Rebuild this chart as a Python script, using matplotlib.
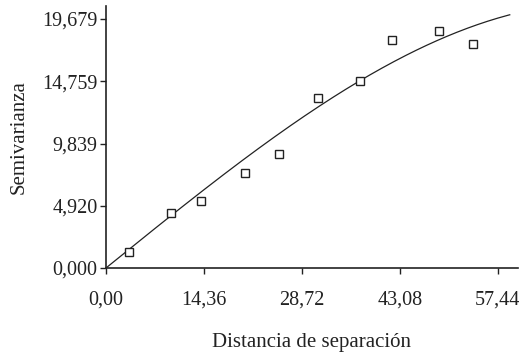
import numpy as np
import matplotlib
matplotlib.use("Agg")
import matplotlib.pyplot as plt

# empirical semivariogram (lag distance, semivariance)
distancia = [3.33, 9.58, 13.93, 20.38, 25.37, 31.13, 37.25, 41.94, 48.88, 53.87]
semivarianza = [1.24, 4.32, 5.32, 7.53, 8.99, 13.41, 14.78, 18.02, 18.76, 17.68]

# fitted spherical model
pepita = 0.0
meseta = 20.95
alcance = 72.0
h_max = 59.2

x_ticks = [0.0, 14.36, 28.72, 43.08, 57.44]
x_labels = ["0,00", "14,36", "28,72", "43,08", "57,44"]
y_ticks = [0.0, 4.920, 9.839, 14.759, 19.679]
y_labels = ["0,000", "4,920", "9,839", "14,759", "19,679"]


def esferico(h):
    r = np.clip(h / alcance, 0, 1)
    return pepita + meseta * (1.5 * r - 0.5 * r ** 3)


plt.rcParams["font.family"] = ["Liberation Serif", "DejaVu Serif"]
plt.rcParams["font.size"] = 14.5

fig = plt.figure(figsize=(5.31, 3.55), dpi=100)
ax = fig.add_axes([0.1996, 0.2451, 0.7754, 0.738])

h = np.linspace(0, h_max, 200)
ax.plot(h, esferico(h), color="#222222", lw=0.9)
ax.plot(distancia, semivarianza, ls="none", marker="s", ms=5.3,
        mfc="white", mec="#222222", mew=1.0)

ax.set_xlim(0, 60.37)
ax.set_ylim(0, 20.71)
ax.set_xticks(x_ticks)
ax.set_xticklabels(x_labels)
ax.set_yticks(y_ticks)
ax.set_yticklabels(y_labels)

for s in ["top", "right"]:
    ax.spines[s].set_visible(False)
for s in ["left", "bottom"]:
    ax.spines[s].set_linewidth(1.2)
    ax.spines[s].set_color("#222222")

ax.tick_params(axis="x", direction="out", length=4, width=1, pad=12,
               colors="#222222")
ax.tick_params(axis="y", direction="out", length=4, width=1, pad=2,
               colors="#222222")

ax.set_xlabel("Distancia de separación", labelpad=17, color="#222222",
              fontsize=15)
ax.set_ylabel("Semivarianza", labelpad=10, color="#222222", fontsize=15)

fig.savefig("out.png", dpi=100)
